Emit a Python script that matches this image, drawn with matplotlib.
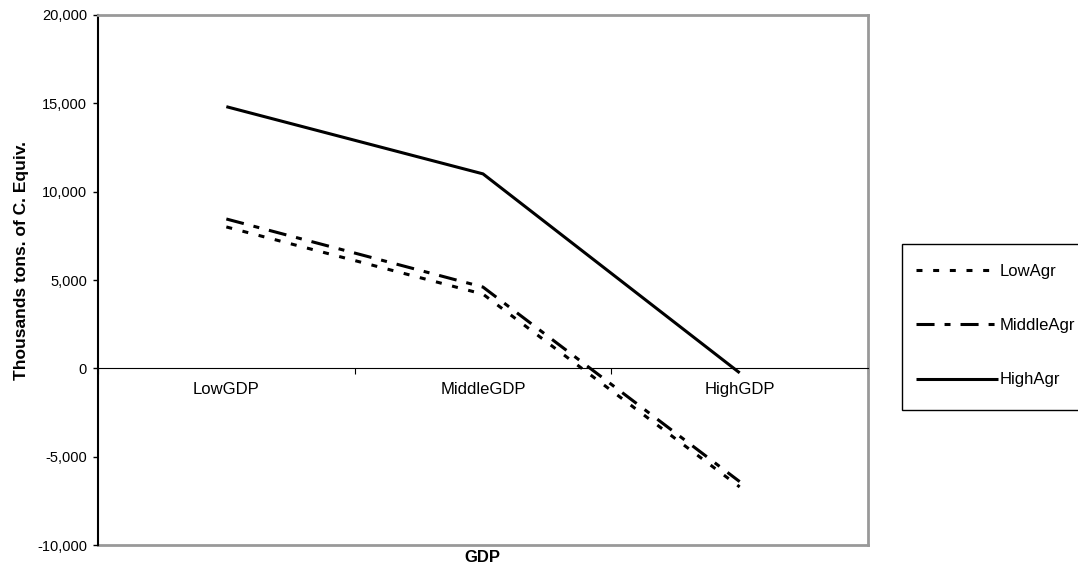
import matplotlib
matplotlib.use("Agg")
import matplotlib.pyplot as plt
from matplotlib.patches import Rectangle
from matplotlib.ticker import FixedLocator, FuncFormatter, NullFormatter

plt.rcParams['font.family'] = ['Liberation Sans', 'DejaVu Sans']
plt.rcParams['lines.scale_dashes'] = False

# Data
categories = ["LowGDP", "MiddleGDP", "HighGDP"]
low_agr = [8000, 4200, -6700]
middle_agr = [8450, 4600, -6400]
high_agr = [14800, 11000, -250]
series_names = ["LowAgr", "MiddleAgr", "HighAgr"]
y_ticks = [-10000, -5000, 0, 5000, 10000, 15000, 20000]

W, H = 1078, 569
fig = plt.figure(figsize=(W / 100, H / 100), dpi=100)
ax = fig.add_axes([98 / W, 1 - 545.3 / H, (868 - 98) / W, (545.3 - 14.7) / H])

xs = [i + 0.5 for i in range(len(categories))]
lw = 2.2
ax.plot(xs, low_agr, color='black', lw=lw, dashes=(4.3, 7.7), label=series_names[0],
        dash_capstyle='butt')
ax.plot(xs, middle_agr, color='black', lw=lw, dashes=(13, 7.2, 4.3, 7.2), label=series_names[1],
        dash_capstyle='butt')
ax.plot(xs, high_agr, color='black', lw=lw, label=series_names[2], solid_capstyle='butt')

ax.set_xlim(0, len(categories))
ax.set_ylim(y_ticks[0], y_ticks[-1])

# value axis
ax.yaxis.set_major_locator(FixedLocator(y_ticks))
ax.yaxis.set_major_formatter(FuncFormatter(lambda v, p: f"{int(v):,}"))
ax.tick_params(axis='y', direction='out', length=3.5, width=1.0, pad=4.5,
               labelsize=10.5, colors='black')

# category axis sits on the zero line
ax.spines['bottom'].set_position(('data', 0))
ax.spines['bottom'].set_color('black')
ax.spines['bottom'].set_linewidth(0.8)
ax.xaxis.set_major_locator(FixedLocator(list(range(len(categories) + 1))))
ax.xaxis.set_major_formatter(NullFormatter())
ax.xaxis.set_minor_locator(FixedLocator(xs))
ax.set_xticklabels(categories, minor=True)
ax.tick_params(axis='x', which='major', direction='out', length=4.5, width=0.8)
ax.tick_params(axis='x', which='minor', length=0, pad=10, labelsize=12)

ax.spines['left'].set_color('black')
ax.spines['left'].set_linewidth(1.5)
for side in ('top', 'right'):
    ax.spines[side].set_color('#999999')
    ax.spines[side].set_linewidth(2.0)
# plot-area border along the bottom edge
ax.plot([0, 1], [0, 0], transform=ax.transAxes, color='#999999', lw=2.0, clip_on=False,
        zorder=0.5)

fig.text(22 / W, 1 - 261 / H, "Thousands tons. of C. Equiv.", fontsize=12.5,
         fontweight='bold', rotation=90, ha='center', va='center')
fig.text(482.5 / W, 1 - 557 / H, "GDP", fontsize=12, fontweight='bold',
         ha='center', va='center')

# legend box, drawn beneath the axes so the legend entries sit on top
fig.patches.append(Rectangle((902 / W, 1 - 410 / H), (W + 5 - 902) / W, (410 - 244) / H,
                             transform=fig.transFigure, facecolor='white',
                             edgecolor='black', lw=1.0, zorder=-1))
leg = ax.legend(loc='upper left', bbox_to_anchor=(916 / W, 1 - 264 / H),
                bbox_transform=fig.transFigure, frameon=False, fontsize=12,
                handlelength=4.9, handletextpad=0.12, labelspacing=2.35,
                borderpad=0, borderaxespad=0)

fig.savefig("out.png", dpi=100)
